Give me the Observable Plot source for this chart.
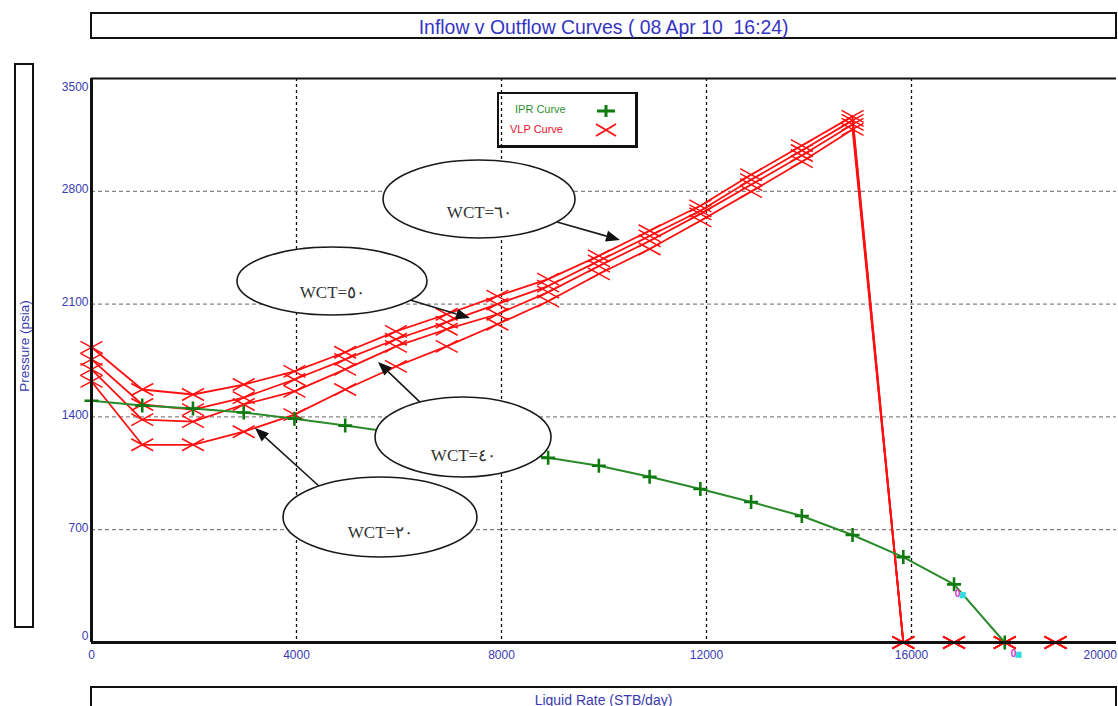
<!DOCTYPE html>
<html>
<head>
<meta charset="utf-8">
<script src="https://cdn.jsdelivr.net/npm/d3@7"></script>
<script src="https://cdn.jsdelivr.net/npm/@observablehq/plot@0.6"></script>
<style>
  html, body { margin: 0; padding: 0; background: #fff; }
  body { width: 1118px; height: 706px; overflow: hidden; position: relative;
         font-family: "Liberation Sans", Arial, sans-serif; }
  #chart { position: absolute; left: 0; top: 0; }
  .box { position: absolute; box-sizing: border-box; border: 2px solid #111; background: #fff; }
  #title { left: 90px; top: 12px; width: 1027px; height: 27px; text-align: center;
           color: #3434c4; font-size: 20px; line-height: 27px; overflow: visible; }
  #title span { display: inline-block; transform: scaleX(0.97); white-space: pre; }
  #ylab { left: 14px; top: 63px; width: 20px; height: 565px; }
  #ylab span { position: absolute; left: 50%; top: 50%; transform: translate(-50%, -50%) rotate(-90deg);
               white-space: nowrap; color: #3a3ab0; font-size: 13.5px; }
  #xlab { left: 90px; top: 686px; width: 1027px; height: 30px; text-align: center;
          color: #3a3ab0; font-size: 14px; line-height: 24px; }
  #legend { position: absolute; left: 497px; top: 92px; width: 141px; height: 56px; box-sizing: border-box;
            border: 2px solid #111; border-right-width: 3px; border-bottom-width: 3px; font-size: 11px; }
  #legend .item { position: absolute; white-space: nowrap; }
</style>
</head>
<body>
<div id="chart"></div>
<div class="box" id="title"><span>Inflow v Outflow Curves ( 08 Apr 10  16:24)</span></div>
<div class="box" id="ylab"><span>Pressure (psia)</span></div>
<div class="box" id="xlab">Liquid Rate  (STB/day)</div>
<div id="legend">
  <div class="item" style="left:16px; top:9px; color:#2f8f2f;">IPR Curve</div>
  <svg class="item" style="left:94px; top:9px;" width="26" height="16"><path d="M4,8H22M13,2V14" stroke="#0f7a0f" stroke-width="3" fill="none"/></svg>
  <div class="item" style="left:11px; top:29px; color:#e8102a;">VLP Curve</div>
  <svg class="item" style="left:94px; top:28px;" width="26" height="16"><path d="M3,2L23,14M3,14L23,2" stroke="#ff1010" stroke-width="1.8" fill="none"/></svg>
</div>
<script>
// ---------- data ----------
const rates = [0, 990, 1980, 2970, 3960, 4950, 5940, 6930, 7920, 8910,
               9900, 10890, 11880, 12870, 13860, 14850, 15840, 16830, 17820, 18810];

// IPR curve (pressure, psia) at rates[0..18]
const iprPressure = [1500, 1470, 1452, 1427, 1389, 1346, 1302, 1252, 1202, 1146,
                     1097, 1028, 953, 872, 785, 667, 530, 361, 0];

// Four VLP curves (pressure, psia) at rates[0..19]
const vlpA = [1832, 1570, 1539, 1601, 1682, 1801, 1931, 2037, 2150, 2255, 2399, 2555, 2710, 2903, 3084, 3265, 0, 0, 0, 0];
const vlpB = [1757, 1477, 1445, 1520, 1632, 1757, 1882, 1988, 2100, 2212, 2368, 2523, 2679, 2872, 3053, 3240, 0, 0, 0, 0];
const vlpC = [1695, 1383, 1371, 1477, 1558, 1695, 1838, 1944, 2037, 2174, 2336, 2492, 2660, 2841, 3022, 3215, 0, 0, 0, 0];
const vlpD = [1620, 1227, 1227, 1308, 1414, 1570, 1713, 1838, 1975, 2118, 2287, 2442, 2617, 2798, 2984, 3184, 0, 0, 0, 0];
const vlpNames = ["A", "B", "C", "D"];

const xTicks = [0, 4000, 8000, 12000, 16000, 20000];
const yTicks = [0, 700, 1400, 2100, 2800, 3500];
const xGrid = [4000, 8000, 12000, 16000];
const yGrid = [700, 1400, 2100, 2800];

// Callout labels (WCT) anchored in data units: ellipse centre, text, arrow from -> to
const calloutText = ["WCT=٦٠", "WCT=٥٠", "WCT=٤٠", "WCT=٢٠"];
const calloutRate = [7571, 4702, 7259, 5639];
const calloutP    = [2749, 2240, 1272, 776];
const calloutTextP = [2668, 2172, 1160, 683];
const arrowFromRate = [9093, 6224, 6420, 4468];
const arrowFromP    = [2606, 2122, 1489, 962];
const arrowToRate   = [10322, 7395, 5600, 3200];
const arrowToP      = [2495, 2011, 1738, 1328];

// operating-point flags
const opRate = [16900, 17990];
const opP = [300, -70];

// ---------- tidy tables ----------
const iprRows = iprPressure.map((p, i) => ({rate: rates[i], p}));
const vlpSeries = [vlpA, vlpB, vlpC, vlpD];
const vlpRows = vlpSeries.flatMap((vals, k) => vals.map((p, i) => ({rate: rates[i], p, curve: vlpNames[k]})));
const callouts = calloutText.map((t, i) => ({
  text: t, rate: calloutRate[i], p: calloutP[i], textP: calloutTextP[i],
  fr: arrowFromRate[i], fp: arrowFromP[i], tr: arrowToRate[i], tp: arrowToP[i]
}));
const ellipseR = [[96, 39], [95, 34], [88, 40], [97, 40]];
const opRows = opRate.map((r, i) => ({rate: r, p: opP[i]}));

// ---------- custom marker symbols ----------
const wideX = { draw(ctx) { ctx.moveTo(-11, -6); ctx.lineTo(11, 6); ctx.moveTo(-11, 6); ctx.lineTo(11, -6); } };
const plusSym = { draw(ctx) { ctx.moveTo(-7, 0); ctx.lineTo(7, 0); ctx.moveTo(0, -7); ctx.lineTo(0, 7); } };

// ---------- callout render mark ----------
function calloutMark(index, scales) {
  const {x, y} = scales;
  const g = d3.create("svg:g");
  callouts.forEach((c) => {
    const x1 = x(c.fr), y1 = y(c.fp), x2 = x(c.tr), y2 = y(c.tp);
    const a = Math.atan2(y2 - y1, x2 - x1), L = 14, W = 5.5;
    const bx = x2 - L * Math.cos(a), by = y2 - L * Math.sin(a);
    g.append("line").attr("x1", x1).attr("y1", y1).attr("x2", bx).attr("y2", by)
      .attr("stroke", "#1a1a1a").attr("stroke-width", 1.6);
    g.append("path")
      .attr("d", `M${x2},${y2}L${bx - W * Math.sin(a)},${by + W * Math.cos(a)}L${bx + W * Math.sin(a)},${by - W * Math.cos(a)}Z`)
      .attr("fill", "#111");
  });
  callouts.forEach((c, i) => {
    g.append("ellipse").attr("cx", x(c.rate)).attr("cy", y(c.p))
      .attr("rx", ellipseR[i][0]).attr("ry", ellipseR[i][1])
      .attr("fill", "#fff").attr("stroke", "#1a1a1a").attr("stroke-width", 1.6);
  });
  return g.node();
}

const font = "'Liberation Sans', Arial, sans-serif";
const tickColor = "#3a3ab0";
const chart = Plot.plot({
  width: 1118,
  height: 706,
  marginLeft: 91,
  marginRight: 2,
  marginTop: 78,
  marginBottom: 64,
  x: {domain: [0, 20000], axis: null},
  y: {domain: [0, 3500], axis: null},
  style: {fontFamily: font, fontSize: "12px", color: tickColor, background: "transparent", overflow: "visible"},
  marks: [
    Plot.ruleY(yGrid, {stroke: "#666", strokeWidth: 1, strokeDasharray: "4,3"}),
    Plot.ruleX(xGrid, {stroke: "#111", strokeWidth: 1.3, strokeDasharray: "3,3"}),
    Plot.line(vlpRows, {x: "rate", y: "p", z: "curve", stroke: "#ff1010", strokeWidth: 1.8}),
    Plot.dot(vlpRows, {x: "rate", y: "p", symbol: wideX, r: 5, fill: "none", stroke: "#ff1010", strokeWidth: 1.5}),
    Plot.line(iprRows, {x: "rate", y: "p", stroke: "#2a8a2a", strokeWidth: 2}),
    Plot.dot(iprRows, {x: "rate", y: "p", symbol: plusSym, r: 5, fill: "none", stroke: "#0f7a0f", strokeWidth: 2.6}),
    Plot.dot(opRows, {x: "rate", y: "p", symbol: "square", r: 3.5, fill: "#33dcdc", dx: 5, dy: 1}),
    Plot.text(opRows, {x: "rate", y: "p", text: () => "0", fill: "#cc33cc", fontSize: 10, fontWeight: "bold"}),
    Plot.ruleY([3500], {stroke: "#111", strokeWidth: 2}),
    Plot.ruleX([0], {stroke: "#111", strokeWidth: 3, y1: 0, y2: 3500}),
    Plot.ruleY([0], {stroke: "#111", strokeWidth: 3}),
    calloutMark,
    Plot.text(callouts, {x: "rate", y: "textP", text: "text", fill: "#333",
      fontFamily: "'Liberation Serif', 'Times New Roman', serif", fontSize: 17}),
    // y tick labels
    Plot.text(yTicks.slice(1, -1), {x: 0, y: d => d, text: d => String(d), dx: -3, dy: -2, textAnchor: "end", fill: tickColor, fontSize: 12}),
    Plot.text(yTicks.slice(-1), {x: 0, y: d => d, text: d => String(d), dx: -3, dy: 9, textAnchor: "end", fill: tickColor, fontSize: 12}),
    Plot.text(yTicks.slice(0, 1), {x: 0, y: d => d, text: d => String(d), dx: -3, dy: -6, textAnchor: "end", fill: tickColor, fontSize: 12}),
    // x tick labels
    Plot.text(xTicks.slice(0, -1), {x: d => d, y: 0, text: d => String(d), dy: 13, fill: tickColor, fontSize: 12}),
    Plot.text(xTicks.slice(-1), {x: d => d, y: 0, text: d => String(d), dy: 13, dx: -33, textAnchor: "start", fill: tickColor, fontSize: 12})
  ]
});
document.getElementById("chart").appendChild(chart);
</script>
</body>
</html>
